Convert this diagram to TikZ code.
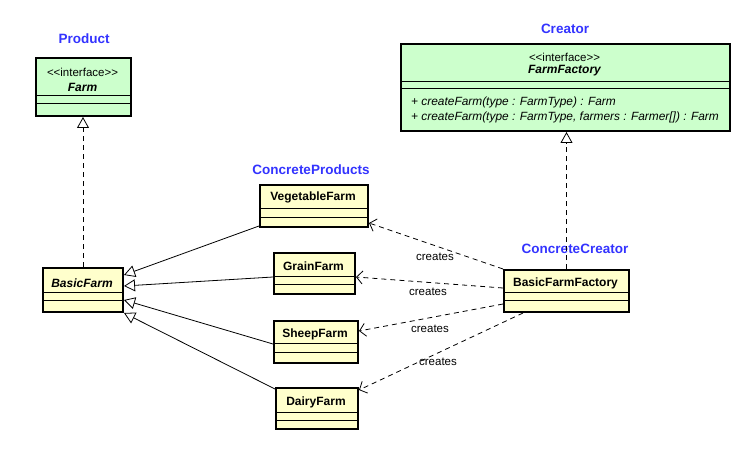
\documentclass[tikz,border=0pt]{standalone}
\usepackage{fontspec}
\setmainfont{Liberation Sans}
\usetikzlibrary{arrows.meta,calc}
\definecolor{ifgreen}{RGB}{204,255,204}
\definecolor{clsyellow}{RGB}{255,255,204}
\definecolor{rolblue}{RGB}{51,51,255}
\tikzset{
  clsbox/.style={draw=black, line width=2pt, rectangle, inner sep=0pt},
  sepline/.style={draw=black, line width=1pt},
  clsname/.style={font=\fontsize{12}{14}\selectfont\bfseries, inner sep=0pt},
  ifname/.style={font=\fontsize{12}{14}\selectfont\bfseries\itshape, inner sep=0pt},
  stereo/.style={font=\fontsize{11.5}{13}\selectfont, inner sep=0pt},
  meth/.style={font=\fontsize{11.9}{13}\selectfont\itshape, inner sep=0pt, anchor=west},
  role/.style={font=\fontsize{13.5}{16}\selectfont\bfseries, text=rolblue, inner sep=0pt},
  lbl/.style={font=\fontsize{11.5}{13}\selectfont, inner sep=0pt},
  gen/.style={draw=black, line width=0.8pt, -{Triangle[open, length=11pt, width=12pt, line width=0.8pt]}},
  realize/.style={draw=black, line width=0.8pt, dash pattern=on 5pt off 4pt, -{Triangle[open, length=11pt, width=12pt, line width=0.8pt, sep=0pt]}},
  dep/.style={draw=black, line width=0.8pt, dash pattern=on 5pt off 4pt, -{Straight Barb[length=6pt, width=13pt, line width=0.8pt]}}
}
\newcommand{\umlcls}[8]{%
  \node[clsbox, fill=#6, minimum width={(#4-#2)*1pt}, minimum height={(#5-#3)*1pt}, anchor=north west] (#1) at (#2,#3) {};
  \draw[sepline] (#2,#7) -- (#4,#7);
  \draw[sepline] (#2,#8) -- (#4,#8);
}
\newcommand{\stereotxt}{<{}<interface>{}>}
\begin{document}
\begin{tikzpicture}[x=1pt, y=-1pt]
\useasboundingbox[fill=white] (0,0) rectangle (743,465);

% class boxes
\umlcls{farm}{35}{57}{130}{115}{ifgreen}{96}{104}
\umlcls{ff}{400}{43}{729}{130}{ifgreen}{82}{89}
\umlcls{bf}{42}{267}{122}{311}{clsyellow}{292}{300}
\umlcls{veg}{259}{184}{367}{226}{clsyellow}{208}{217}
\umlcls{grain}{273}{252}{354}{293}{clsyellow}{276}{284}
\umlcls{sheep}{273}{320}{357}{362}{clsyellow}{343}{352}
\umlcls{dairy}{275}{387}{357}{428}{clsyellow}{412}{420}
\umlcls{bff}{503}{269}{628}{311}{clsyellow}{292}{300}

% texts in boxes
\node[stereo] (farmst) at (82.5,72) {\stereotxt};
\node[ifname] (farmnm) at (82.5,87) {Farm};
\node[stereo] (ffst) at (564.5,57) {\stereotxt};
\node[ifname] (ffnm) at (564.5,71) {FarmFactory};
\node[meth] (m1) at (411,102) {+ createFarm(type : FarmType) : Farm};
\node[meth] (m2) at (411,117) {+ createFarm(type : FarmType, farmers : Farmer[]) : Farm};
\node[ifname] (bfnm) at (82,283) {BasicFarm};
\node[clsname] (vegnm) at (313,197) {VegetableFarm};
\node[clsname] (grainnm) at (313.5,266) {GrainFarm};
\node[clsname] (sheepnm) at (315,334) {SheepFarm};
\node[clsname] (dairynm) at (316,402) {DairyFarm};
\node[clsname] (bffnm) at (565.5,283) {BasicFarmFactory};

% role labels
\node[role] (rprod) at (84,39) {Product};
\node[role] (rcre) at (565,29) {Creator};
\node[role] (rcp) at (311,170) {ConcreteProducts};
\node[role] (rcc) at (575,249) {ConcreteCreator};

% realizations
\draw[realize] (bf.north) -- (bf.north |- farm.south);
\draw[realize] (bff.north) -- (bff.north |- ff.south);

% generalizations
\draw[gen] ([yshift=2pt]veg.south west) -- ([yshift=15pt]bf.east);
\draw[gen] ([yshift=-3.5pt]grain.west) -- ([yshift=4pt]bf.east);
\draw[gen] ([yshift=-2pt]sheep.west) -- ([yshift=-10pt]bf.east);
\draw[gen] ([yshift=-2pt]dairy.north west) -- ([yshift=-23pt]bf.east);

% creates dependencies
\draw[dep] (bff.north west) -- ([yshift=5pt]veg.south east);
\draw[dep] ([yshift=3pt]bff.west) -- ([yshift=-3.5pt]grain.east);
\draw[dep] ([yshift=-13pt]bff.west) -- ([yshift=11pt]sheep.east);
\draw[dep] ([xshift=20pt]bff.south west) -- ([yshift=-3pt]dairy.north east);

\node[lbl] (c1) at (435,257) {creates};
\node[lbl] (c2) at (428,292) {creates};
\node[lbl] (c3) at (430,329) {creates};
\node[lbl] (c4) at (438,362) {creates};
\end{tikzpicture}
\end{document}
